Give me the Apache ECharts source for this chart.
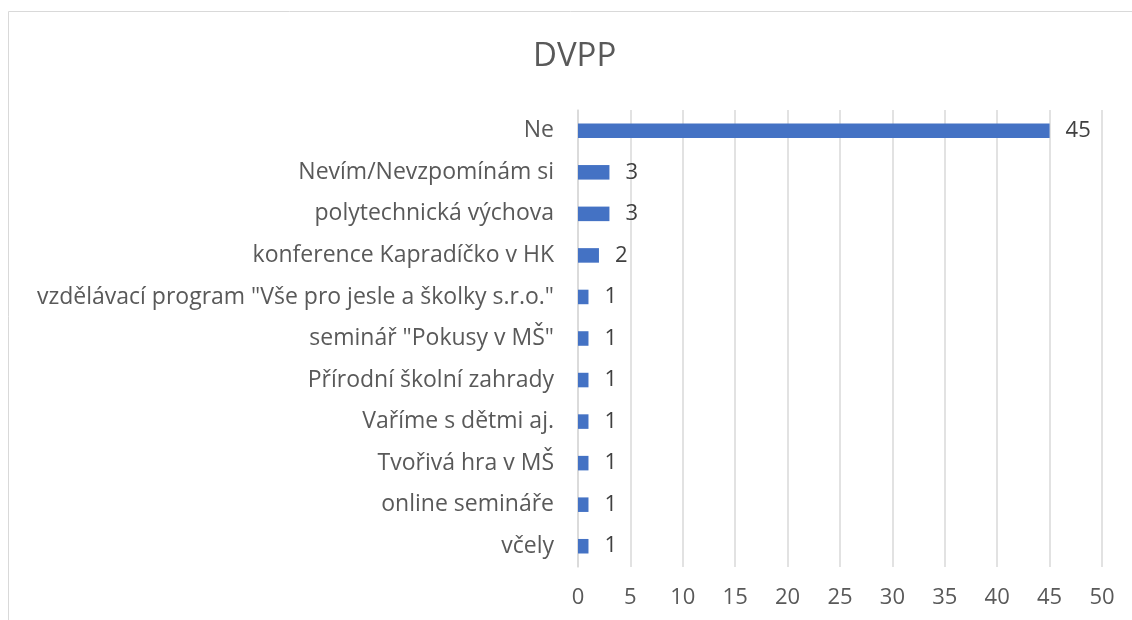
<!DOCTYPE html>
<html>
<head>
<meta charset="utf-8">
<script src="https://cdn.jsdelivr.net/npm/echarts@6/dist/echarts.min.js"></script>
<style>
  html, body { margin: 0; padding: 0; background: #fff; }
  #chart { width: 1132px; height: 620px; }
</style>
</head>
<body>
<div id="chart"></div>
<script>
// data (top to bottom as shown)
const categories = [
  'Ne',
  'Nevím/Nevzpomínám si',
  'polytechnická výchova',
  'konference Kapradíčko v HK',
  'vzdělávací program "Vše pro jesle a školky s.r.o."',
  'seminář "Pokusy v MŠ"',
  'Přírodní školní zahrady',
  'Vaříme s dětmi aj.',
  'Tvořivá hra v MŠ',
  'online semináře',
  'včely'
]
const values = [45, 3, 3, 2, 1, 1, 1, 1, 1, 1, 1]
const xTicks = { min: 0, max: 50, interval: 5 }

const font = '"Open Sans", "Noto Sans", sans-serif'
const textColor = '#595959'

const chart = echarts.init(document.getElementById('chart'))
chart.setOption({
  animation: false,
  title: {
    text: 'DVPP',
    left: 528,
    top: 35,
    textStyle: { fontFamily: font, fontSize: 33, fontWeight: 'normal', color: textColor }
  },
  graphic: [{
    type: 'rect',
    shape: { x: 8.5, y: 11.5, width: 1140, height: 640 },
    style: { fill: 'none', stroke: '#d9d9d9', lineWidth: 1 },
    silent: true
  }],
  grid: { left: 578, right: 30, top: 110, bottom: 53 },
  xAxis: {
    type: 'value',
    min: xTicks.min,
    max: xTicks.max,
    interval: xTicks.interval,
    axisLine: { show: false },
    axisTick: { show: false },
    axisLabel: { fontFamily: font, fontSize: 22, color: textColor, margin: 20 },
    splitLine: { lineStyle: { color: '#d9d9d9', width: 1.5 } }
  },
  yAxis: {
    type: 'category',
    inverse: true,
    data: categories,
    axisLine: { show: true, lineStyle: { color: '#d9d9d9', width: 1.5 } },
    axisTick: { show: false },
    axisLabel: { fontFamily: font, fontSize: 23, color: textColor, margin: 24 }
  },
  series: [{
    type: 'bar',
    data: values,
    barWidth: '35%',
    itemStyle: { color: '#4472c4' },
    label: {
      show: true,
      position: 'right',
      distance: 16,
      fontFamily: font,
      fontSize: 22,
      color: '#404040'
    }
  }]
})
</script>
</body>
</html>
